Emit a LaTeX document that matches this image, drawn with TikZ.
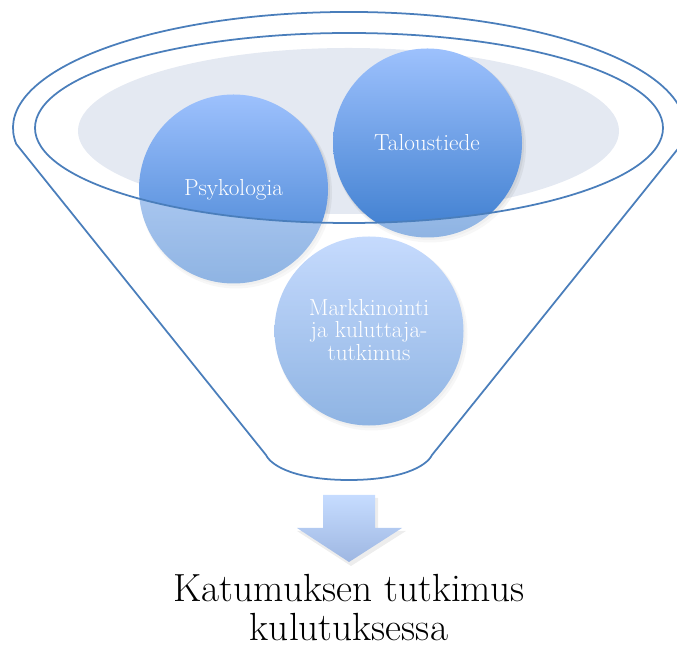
\documentclass[tikz,border=0pt]{standalone}
\begin{document}
\begin{tikzpicture}[x=0.03cm,y=0.03cm]
\useasboundingbox (0,0) rectangle (677,647);
\definecolor{graybg}{RGB}{228,233,242}
\definecolor{funnelblue}{RGB}{74,126,187}
\definecolor{circtop}{RGB}{157,193,253}
\definecolor{circbot}{RGB}{62,126,207}
\definecolor{arrtop}{RGB}{198,220,255}
\definecolor{arrbot}{RGB}{158,183,226}
\tikzset{
  bubble/.style={circle, inner sep=0pt, minimum size=5.67cm, top color=circtop, bottom color=circbot, draw=none},
  bubbleshadow/.style={fill=black, opacity=0.05},
  bubbletext/.style={text=white, inner sep=0pt, font=\fontsize{19.8}{19.2}\selectfont, align=center},
  funnelline/.style={draw=funnelblue, line width=1.5pt},
  titletext/.style={inner sep=0pt, font=\fontsize{33.5}{36}\selectfont}
}
% grey disc inside the funnel mouth
\fill[graybg] (348.5,516) ellipse [x radius=270.5, y radius=83];
% shadows of the bubbles
\foreach \cx/\cy in {233.5/458, 427.5/504, 369/316}{
  \fill[bubbleshadow] (\cx+2.5,\cy-3.5) circle (96);
  \fill[bubbleshadow] (\cx+1.5,\cy-2) circle (95);
}
% bubbles
\node[bubble] (psy) at (233.5,458) {};
\node[bubble] (tal) at (427.5,504) {};
\node[bubble] (mar) at (369,316) {};
% translucent front of the funnel
\fill[white, fill opacity=0.42, even odd rule]
  (16.3,502.9) arc[start angle=188, end angle=-8, x radius=336, y radius=116]
  -- (432,192) .. controls (426,180) and (400,167) .. (349,167)
  .. controls (298,167) and (272,180) .. (266,192) -- cycle
  (349,519) ellipse [x radius=314, y radius=95];
% funnel outline
\draw[funnelline, line join=round]
  (16.3,502.9) arc[start angle=188, end angle=-8, x radius=336, y radius=116]
  -- (432,192) .. controls (426,180) and (400,167) .. (349,167)
  .. controls (298,167) and (272,180) .. (266,192) -- cycle;
\draw[funnelline] (349,519) ellipse [x radius=314, y radius=95];
% labels
\node[bubbletext, anchor=base] (psyl) at (233.5,451) {Psykologia};
\node[bubbletext, anchor=base] (tall) at (427,496) {Taloustiede};
\node[bubbletext] (marl) at (369,317) {Markkinointi\\ja kuluttaja-\\tutkimus};
% arrow
\fill[black, opacity=0.07] (325,149) -- (378,149) -- (378,116) -- (406,116) -- (351,81) -- (297,116) -- (325,116) -- cycle;
\shade[top color=arrtop, bottom color=arrbot] (323,152) -- (375,152) -- (375,119) -- (402,119) -- (349,85) -- (297,119) -- (323,119) -- cycle;
% title
\node[titletext, anchor=base] (t1) at (349,45) {Katumuksen tutkimus};
\node[titletext, anchor=base] (t2) at (349,7) {kulutuksessa};
\end{tikzpicture}
\end{document}
